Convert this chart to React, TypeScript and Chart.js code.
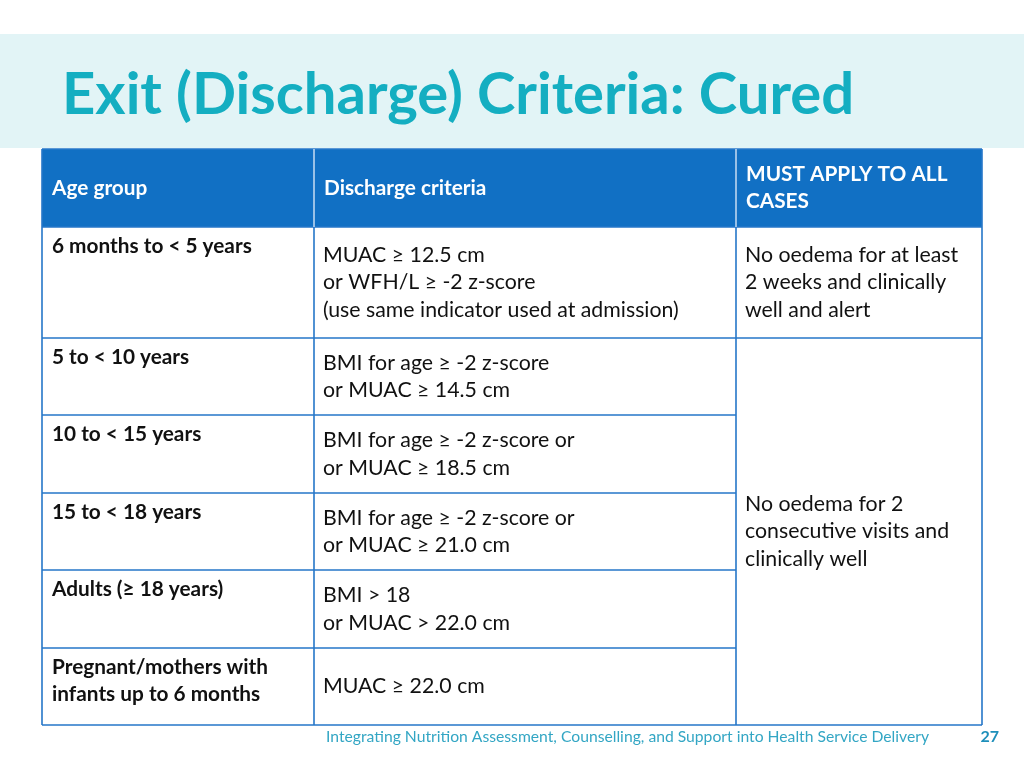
import { useEffect, useRef } from "react";
import { Chart, registerables } from "chart.js";

Chart.register(...registerables);

// ---------- content ----------
const titleText = "Exit (Discharge) Criteria: Cured";
const headers = ["Age group", "Discharge criteria", "MUST APPLY TO ALL\nCASES"];
const ageGroups = [
  "6 months to < 5 years",
  "5 to < 10 years",
  "10 to < 15 years",
  "15 to < 18 years",
  "Adults (≥ 18 years)",
  "Pregnant/mothers with\ninfants up to 6 months",
];
const dischargeCriteria = [
  "MUAC ≥ 12.5 cm\nor WFH/L ≥ -2 z-score\n(use same indicator used at admission)",
  "BMI for age ≥ -2 z-score\nor MUAC ≥ 14.5 cm",
  "BMI for age ≥ -2 z-score or\nor MUAC ≥ 18.5 cm",
  "BMI for age ≥ -2 z-score or\nor MUAC ≥ 21.0 cm",
  "BMI > 18\nor MUAC > 22.0 cm",
  "MUAC ≥ 22.0 cm",
];
const mustApply = [
  "No oedema for at least\n2 weeks and clinically\nwell and alert",
  "No oedema for 2\nconsecutive visits and\nclinically well",
];
// first row index and number of rows covered by each "must apply" cell
const mustApplyStart = [0, 1];
const mustApplySpan = [1, 5];
const footerText =
  "Integrating Nutrition Assessment, Counselling, and Support into Health Service Delivery";
const pageNumber = "27";

// ---------- layout & style ----------
const W = 1024;
const H = 768;
const colEdges = [42, 314, 736, 982];
const rowEdges = [149, 227, 338, 415, 493, 570, 648, 725];
const FONT = "Lato, 'Open Sans', sans-serif";
const BLUE = "#1170c4";
const BORDER = "#2677c9";
const TEAL = "#14aec1";
const BAND = "#e2f4f6";
const LINE_H = 27.5;

const tablePlugin = {
  id: "tablePlugin",
  afterDraw(chart: any) {
    const ctx = chart.ctx as CanvasRenderingContext2D;
    const xs = chart.scales.x;
    const ys = chart.scales.y;
    const px = (v: number) => xs.getPixelForValue(v);
    const py = (v: number) => ys.getPixelForValue(v);
    ctx.save();

    // background
    ctx.fillStyle = "#ffffff";
    ctx.fillRect(px(0), py(0), px(W) - px(0), py(H) - py(0));
    ctx.fillStyle = BAND;
    ctx.fillRect(px(0), py(34), px(W) - px(0), py(148) - py(34));

    // title
    ctx.fillStyle = TEAL;
    ctx.font = `bold 58px ${FONT}`;
    ctx.textBaseline = "alphabetic";
    ctx.textAlign = "left";
    ctx.fillText(titleText, px(62), py(114));

    // header
    const x0 = px(colEdges[0]);
    const x3 = px(colEdges[3]);
    ctx.fillStyle = BLUE;
    ctx.fillRect(x0, py(rowEdges[0]), x3 - x0, py(rowEdges[1]) - py(rowEdges[0]));
    ctx.fillStyle = "#ffffff";
    ctx.fillRect(x0, py(rowEdges[1]), x3 - x0, py(rowEdges[rowEdges.length - 1]) - py(rowEdges[1]));

    const drawLines = (
      text: string,
      x: number,
      yTop: number,
      yBot: number,
      mode: "top" | "center",
      font: string,
      color: string
    ) => {
      const lines = text.split("\n");
      ctx.font = font;
      ctx.fillStyle = color;
      ctx.textBaseline = "middle";
      ctx.textAlign = "left";
      let start: number;
      if (mode === "top") start = yTop + 19;
      else start = (yTop + yBot) / 2 - ((lines.length - 1) * LINE_H) / 2;
      lines.forEach((l, i) => ctx.fillText(l, px(x), py(start + i * LINE_H)));
    };

    // header text
    const hFont = `bold 20.8px ${FONT}`;
    headers.forEach((h, i) =>
      drawLines(h, colEdges[i] + 10, rowEdges[0], rowEdges[1], "center", hFont, "#ffffff")
    );

    // body text
    const bFont = `bold 20.8px ${FONT}`;
    const rFont = `21.3px ${FONT}`;
    ageGroups.forEach((a, i) => {
      const top = rowEdges[i + 1];
      const bot = rowEdges[i + 2];
      drawLines(a, colEdges[0] + 10, top, bot, "top", bFont, "#111111");
      drawLines(dischargeCriteria[i], colEdges[1] + 9, top, bot, "center", rFont, "#111111");
    });
    mustApply.forEach((m, i) => {
      const top = rowEdges[mustApplyStart[i] + 1];
      const bot = rowEdges[mustApplyStart[i] + 1 + mustApplySpan[i]];
      drawLines(m, colEdges[2] + 9, top, bot, "center", rFont, "#111111");
    });

    // grid lines
    ctx.strokeStyle = BORDER;
    ctx.lineWidth = 1.6;
    ctx.beginPath();
    colEdges.forEach((c) => {
      ctx.moveTo(px(c), py(c === colEdges[1] || c === colEdges[2] ? rowEdges[1] : rowEdges[0]));
      ctx.lineTo(px(c), py(rowEdges[rowEdges.length - 1]));
    });
    rowEdges.forEach((r, i) => {
      if (i === 0) {
        ctx.moveTo(x0, py(r));
        ctx.lineTo(x3, py(r));
        return;
      }
      ctx.moveTo(x0, py(r));
      ctx.lineTo(px(colEdges[2]), py(r));
      const isMustEdge =
        mustApplyStart.some((s) => s + 1 === i) ||
        mustApplyStart.some((s, k) => s + 1 + mustApplySpan[k] === i);
      if (isMustEdge) {
        ctx.moveTo(px(colEdges[2]), py(r));
        ctx.lineTo(x3, py(r));
      }
    });
    ctx.stroke();

    // header separators (light)
    ctx.strokeStyle = "#c6dcf2";
    ctx.lineWidth = 1.5;
    ctx.beginPath();
    [colEdges[1], colEdges[2]].forEach((c) => {
      ctx.moveTo(px(c), py(rowEdges[0]));
      ctx.lineTo(px(c), py(rowEdges[1]));
    });
    ctx.stroke();

    // footer
    ctx.font = `15.7px ${FONT}`;
    ctx.fillStyle = "#33a6c4";
    ctx.textBaseline = "middle";
    ctx.textAlign = "left";
    ctx.fillText(footerText, px(326), py(737));
    ctx.font = `bold 16px ${FONT}`;
    ctx.fillStyle = "#1e8fba";
    ctx.textAlign = "right";
    ctx.fillText(pageNumber, px(999), py(737));

    ctx.restore();
  },
};

export default function App() {
  const ref = useRef<HTMLCanvasElement | null>(null);
  useEffect(() => {
    if (!ref.current) return;
    const chart = new Chart(ref.current, {
      type: "scatter",
      data: { datasets: [{ data: [], pointRadius: 0 }] },
      options: {
        animation: false,
        responsive: false,
        maintainAspectRatio: false,
        devicePixelRatio: 1,
        layout: { padding: 0 },
        plugins: { legend: { display: false }, tooltip: { enabled: false } },
        scales: {
          x: { type: "linear", min: 0, max: W, display: false },
          y: { type: "linear", min: 0, max: H, reverse: true, display: false },
        },
      },
      plugins: [tablePlugin],
    });
    return () => chart.destroy();
  }, []);
  return (
    <div style={{ position: "fixed", left: 0, top: 0, width: W, height: H, background: "#fff" }}>
      <canvas ref={ref} width={W} height={H} style={{ width: W, height: H, display: "block" }} />
    </div>
  );
}
